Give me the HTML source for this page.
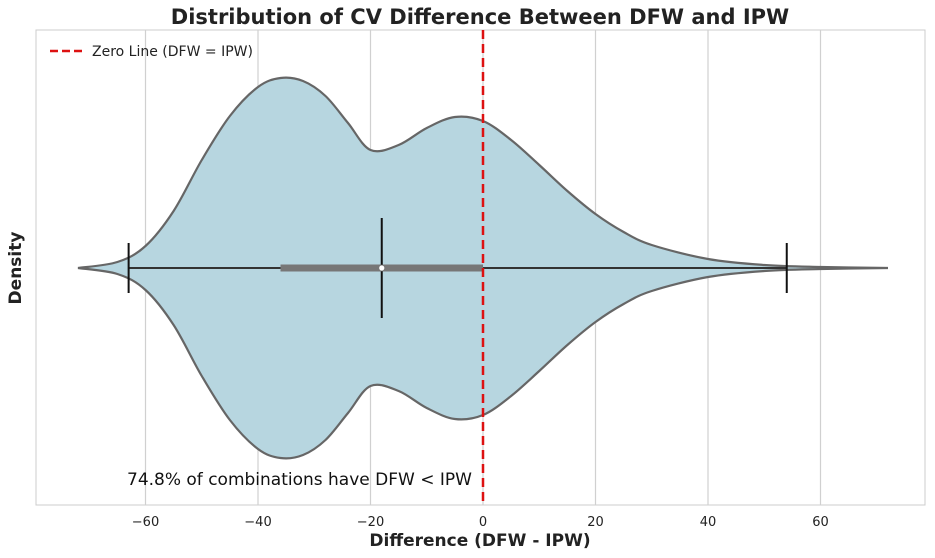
<!DOCTYPE html>
<html><head><meta charset="utf-8"><style>
body{margin:0;background:#fff}
svg text{font-family:"DejaVu Sans","Liberation Sans",sans-serif}
</style></head><body>
<svg id="c" width="935" height="553">
<rect x="36" y="30" width="889" height="475" fill="#fff" stroke="#ccc" stroke-width="1"/>
<g id="grid"></g>
<path id="violin" fill="#b7d6e0" stroke="#666" stroke-width="2.2"/>
<g id="box"></g>
<line id="zero" y1="30" y2="505" stroke="#dd1111" stroke-width="2.5" stroke-dasharray="9,5"/>
<text x="480" y="24" text-anchor="middle" font-size="21" font-weight="bold" fill="#222">Distribution of CV Difference Between DFW and IPW</text>
<text x="480" y="546" text-anchor="middle" font-size="17" font-weight="bold" fill="#222">Difference (DFW - IPW)</text>
<text transform="translate(21,268) rotate(-90)" text-anchor="middle" font-size="17" font-weight="bold" fill="#222">Density</text>
<text x="127" y="485" font-size="17" fill="#111">74.8% of combinations have DFW &lt; IPW</text>
<g>
<line x1="50" y1="51" x2="82" y2="51" stroke="#dd1111" stroke-width="2.5" stroke-dasharray="8,4"/>
<text x="92" y="56" font-size="14" fill="#222">Zero Line (DFW = IPW)</text>
</g>
</svg>
<script>
const ticks=[-60,-40,-20,0,20,40,60];
const gridX=[-60,-40,-20,0,20,40,60];
const densX=[-72,-65,-60,-55,-50,-45,-40,-36,-32,-28,-24,-20,-15,-10,-5,0,5,10,15,20,25,30,40,50,60,72];
const densW=[0,6,22,57,108,152,181,190,187,172,145,118,123,140,151,147,128,103,77,54,36,23,9,3,1,0];
const q1=-36,q3=0,median=-18,whiskLo=-63,whiskHi=54;
const NS="http://www.w3.org/2000/svg";
const X=v=>483+v*5.625, CY=268;
function mk(t,a,p){const e=document.createElementNS(NS,t);for(const k in a)e.setAttribute(k,a[k]);(p||document.getElementById('c')).appendChild(e);return e;}
const g=document.getElementById('grid');
gridX.forEach(v=>{const l=mk('line',{x1:X(v),x2:X(v),y1:30,y2:505,stroke:'#d0d0d0','stroke-width':1.2},g);

});
ticks.forEach(v=>{const t=mk('text',{x:X(v),y:526,'text-anchor':'middle','font-size':13,fill:'#222'});
t.textContent=v<0?'\u2212'+(-v):v;

});
function curve(pts){let d='M'+pts[0][0]+','+pts[0][1];for(let i=0;i<pts.length-1;i++){const p0=pts[i-1]||pts[i],p1=pts[i],p2=pts[i+1],p3=pts[i+2]||p2;
d+=' C'+(p1[0]+(p2[0]-p0[0])/6)+','+(p1[1]+(p2[1]-p0[1])/6)+' '+(p2[0]-(p3[0]-p1[0])/6)+','+(p2[1]-(p3[1]-p1[1])/6)+' '+p2[0]+','+p2[1];}return d;}
const upperPts=densX.map((v,i)=>[X(v),CY-densW[i]]);
const lowerPts=densX.map((v,i)=>[X(v),CY+densW[i]]).reverse();
document.getElementById('violin').setAttribute('d',curve(upperPts)+' L'+curve(lowerPts).slice(1)+' Z');
const b=document.getElementById('box');
const w=mk('line',{x1:X(whiskLo),x2:X(whiskHi),y1:CY,y2:CY,stroke:'#333','stroke-width':2},b);

const bx=mk('line',{x1:X(q1),x2:X(q3),y1:CY,y2:CY,stroke:'#777','stroke-width':7},b);

[[whiskLo,25],[whiskHi,25],[median,50]].forEach(([v,h])=>{const l=mk('line',{x1:X(v),x2:X(v),y1:CY-h,y2:CY+h,stroke:'#111','stroke-width':2},b);
});
const m=mk('circle',{cx:X(median),cy:CY,r:3,fill:'#fff',stroke:'#777','stroke-width':0.8},b);

const z=document.getElementById('zero');z.setAttribute('x1',X(0));z.setAttribute('x2',X(0));
</script>
</body></html>
